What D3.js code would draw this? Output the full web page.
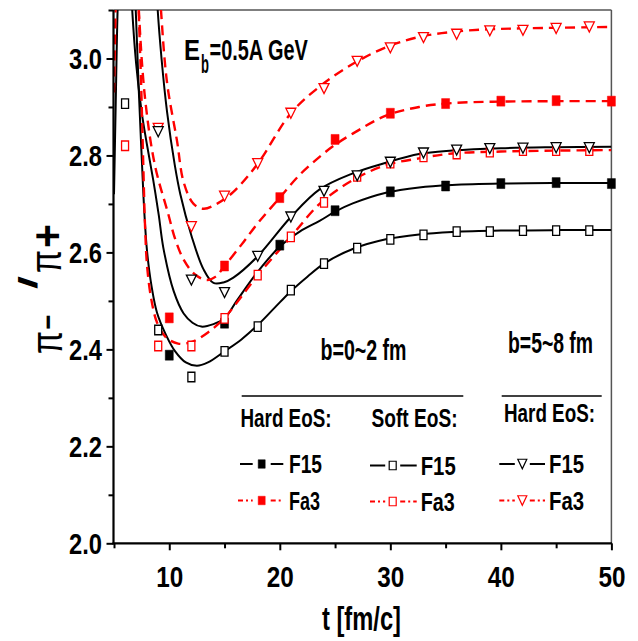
<!DOCTYPE html>
<html><head><meta charset="utf-8">
<script src="https://cdn.jsdelivr.net/npm/d3@7"></script>
<style>body{margin:0;background:#fff}svg{display:block}</style>
</head><body><svg id="c" width="638" height="641"></svg>
<script>
// ---------- data ----------
const yMajorTicks = [2.0, 2.2, 2.4, 2.6, 2.8, 3.0];
const yMinorTicks = [2.1, 2.3, 2.5, 2.7, 2.9, 3.1];
const xMajorTicks = [10, 20, 30, 40, 50];
const xMinorTicks = [5, 15, 25, 35, 45];

// marker times
const tOpen = [6, 9, 12, 15, 18, 21, 24, 27, 30, 33, 36, 39, 42, 45, 48];
const tFilled = [10, 15, 20, 25, 30, 35, 40, 45, 50];
const tTri = [9, 12, 15, 18, 21, 24, 27, 30, 33, 36, 39, 42, 45, 48];

// marker values
const softF15Pts = [2.907, 2.440, 2.343, 2.396, 2.447, 2.522, 2.577, 2.609, 2.627, 2.636, 2.643, 2.643, 2.645, 2.645, 2.645];
const softFa3Pts = [2.820, 2.407, 2.407, 2.464, 2.553, 2.632, 2.703, 2.757, 2.784, 2.797, 2.803, 2.807, 2.810, 2.810, 2.810];
const hardF15Pts = [2.388, 2.454, 2.615, 2.686, 2.725, 2.737, 2.742, 2.744, 2.742];
const hardFa3Pts = [2.465, 2.572, 2.713, 2.833, 2.887, 2.907, 2.912, 2.913, 2.912];
const b58F15Pts = [2.849, 2.543, 2.517, 2.592, 2.673, 2.726, 2.758, 2.786, 2.805, 2.811, 2.814, 2.815, 2.816, 2.816];
const b58Fa3Pts = [2.856, 2.653, 2.716, 2.783, 2.887, 2.938, 2.994, 3.022, 3.043, 3.050, 3.057, 3.058, 3.062, 3.065];

// fitted curves [t, value]
const softF15Curve = [[5.0,2.72],[5.15,2.90],[5.35,3.12],[5.8,3.38],[6.2,3.45],[6.6,3.32],[6.95,3.11],[7.25,2.93],[7.5,2.80],[7.75,2.68],[8.0,2.60],[8.4,2.53],[8.9,2.475],[9.7,2.43],[10.5,2.397],[11.5,2.373],[12.5,2.366],[13.5,2.373],[15,2.396],[16.5,2.42],[18,2.45],[19.5,2.485],[21,2.52],[22.5,2.55],[24,2.577],[26.6,2.607],[29.6,2.627],[32.6,2.637],[35.6,2.642],[40,2.645],[45,2.646],[50,2.646]];
const softFa3Curve = [[5.0,2.93],[5.1,3.05],[5.25,3.2],[5.8,3.5],[6.4,3.5],[6.9,3.3],[7.2,3.12],[7.45,2.95],[7.65,2.78],[7.8,2.66],[8.0,2.57],[8.4,2.50],[8.9,2.455],[9.7,2.425],[10.8,2.412],[12,2.415],[13.5,2.435],[15,2.465],[16.5,2.508],[18,2.553],[21,2.632],[23.6,2.700],[26.6,2.749],[29.6,2.780],[32.6,2.794],[35.6,2.804],[40,2.808],[45,2.810],[50,2.811]];
const hardF15Curve = [[6.3,3.3],[6.6,3.12],[7.0,2.99],[7.5,2.89],[8.0,2.82],[8.55,2.749],[9.05,2.677],[9.46,2.61],[10.4,2.52],[11.3,2.474],[12.1,2.455],[12.9,2.447],[14,2.452],[15,2.464],[16.1,2.50],[18,2.56],[20,2.612],[21.8,2.643],[23.6,2.665],[25,2.684],[26.6,2.701],[29.6,2.723],[32.6,2.734],[35.6,2.739],[40,2.742],[45,2.743],[50,2.743]];
const hardFa3Curve = [[6.9,3.3],[7.2,3.12],[7.8,2.92],[8.7,2.78],[9.9,2.68],[10.5,2.63],[11.3,2.585],[12.3,2.555],[13.4,2.543],[14.2,2.55],[15,2.572],[16.5,2.615],[18,2.66],[20,2.713],[21.8,2.76],[23.6,2.797],[25,2.822],[26.6,2.845],[29.6,2.882],[32.6,2.90],[35.6,2.908],[40,2.911],[45,2.912],[50,2.912]];
const b58F15Curve = [[8.6,3.3],[8.9,3.12],[9.3,3.0],[9.8,2.89],[10.5,2.78],[11.0,2.72],[12.0,2.635],[13.1,2.565],[14,2.537],[14.9,2.538],[15.8,2.548],[18,2.592],[21,2.673],[23.6,2.73],[26.6,2.763],[29.6,2.785],[32.6,2.803],[35.6,2.81],[40,2.815],[45,2.817],[50,2.818]];
const b58Fa3Curve = [[9.0,3.2],[9.25,3.1],[9.8,2.95],[10.7,2.83],[11.3,2.745],[12.2,2.70],[13.1,2.69],[14.3,2.70],[15.8,2.725],[18,2.783],[21,2.887],[23.6,2.942],[26.7,2.99],[29.7,3.024],[32.7,3.045],[35.7,3.055],[38.7,3.06],[41.7,3.062],[50,3.065]];

// ---------- drawing ----------
const FONT = '"Liberation Sans", Arial, sans-serif';
const svg = d3.select('#c');
const L = 113.5, R = 611.4, T = 10, B = 543.3;
const x = d3.scaleLinear().domain([5, 50]).range([114, 611.4]);
const y = d3.scaleLinear().domain([2.0, 3.1]).range([B, T]);
const RED = '#ff0000';

svg.append('defs').append('clipPath').attr('id', 'clip')
  .append('rect').attr('x', L).attr('y', T).attr('width', R - L).attr('height', B - T);

// frame (top / right)
svg.append('line').attr('x1', L).attr('x2', R).attr('y1', T).attr('y2', T).attr('stroke', '#555').attr('stroke-width', 1.5);
svg.append('line').attr('x1', R).attr('x2', R).attr('y1', T).attr('y2', B).attr('stroke', '#555').attr('stroke-width', 1.5);

// curves
const lineGen = d3.line().x(d => x(d[0])).y(d => y(d[1])).curve(d3.curveCatmullRom.alpha(0.5));
const curveSpecs = [
  {d: softF15Curve, c: '#000', dash: null, w: 2},
  {d: hardF15Curve, c: '#000', dash: null, w: 2},
  {d: b58F15Curve, c: '#000', dash: null, w: 2},
  {d: softFa3Curve, c: RED, dash: '10,6', w: 2.4},
  {d: hardFa3Curve, c: RED, dash: '10,6', w: 2.4},
  {d: b58Fa3Curve, c: RED, dash: '10,6', w: 2.4}
];
const gc = svg.append('g').attr('clip-path', 'url(#clip)');
curveSpecs.forEach(s => {
  gc.append('path').attr('d', lineGen(s.d)).attr('fill', 'none')
    .attr('stroke', s.c).attr('stroke-width', s.w)
    .attr('stroke-dasharray', s.dash);
});

// marker helpers
function sqPath(cx, cy, w, h) {
  return `M${cx - w/2},${cy - h/2}h${w}v${h}h${-w}Z`;
}
function triPath(cx, cy, w, h) {
  return `M${cx - w/2},${cy - h/2}L${cx + w/2},${cy - h/2}L${cx},${cy + h/2}Z`;
}
const gm = svg.append('g');
function drawMarkers(ts, vs, kind, color, filled) {
  gm.selectAll(null).data(ts.map((t, i) => [t, vs[i]])).enter().append('path')
    .attr('d', d => kind === 'sq' ? sqPath(x(d[0]), y(d[1]), filled ? 8 : 7, filled ? 10 : 9.5)
                                  : triPath(x(d[0]), y(d[1]), 10, 10))
    .attr('fill', filled ? color : '#fff')
    .attr('stroke', color).attr('stroke-width', filled ? 0.5 : 1.3);
}
drawMarkers(tFilled, hardF15Pts, 'sq', '#000', true);
drawMarkers(tFilled, hardFa3Pts, 'sq', RED, true);
drawMarkers(tOpen, softF15Pts, 'sq', '#000', false);
drawMarkers(tOpen, softFa3Pts, 'sq', RED, false);
drawMarkers(tTri, b58Fa3Pts, 'tri', RED, false);
drawMarkers(tTri, b58F15Pts, 'tri', '#000', false);

// axes
const ya = svg.append('g').attr('transform', `translate(${L},0)`)
  .call(d3.axisLeft(y).tickValues(yMajorTicks).tickSize(7).tickSizeOuter(0).tickFormat(d3.format('.1f')));
ya.attr('font-family', FONT).attr('font-size', 29).attr('font-weight', 'bold');
ya.select('.domain').remove();
ya.selectAll('.tick line').attr('stroke-width', 2);
ya.selectAll('.tick text').attr('x', -11.5).attr('dy', '0.36em').attr('fill', '#000')
  .attr('textLength', 33).attr('lengthAdjust', 'spacingAndGlyphs');
const yam = svg.append('g').attr('transform', `translate(${L},0)`)
  .call(d3.axisLeft(y).tickValues(yMinorTicks).tickSize(5).tickSizeOuter(0).tickFormat(''));
yam.select('.domain').remove();
yam.selectAll('.tick line').attr('stroke-width', 2);

const xa = svg.append('g').attr('transform', `translate(0,${B})`)
  .call(d3.axisBottom(x).tickValues(xMajorTicks).tickSize(7).tickSizeOuter(0).tickFormat(d3.format('d')));
xa.attr('font-family', FONT).attr('font-size', 29).attr('font-weight', 'bold');
xa.select('.domain').remove();
xa.selectAll('.tick line').attr('stroke-width', 2);
xa.selectAll('.tick text').attr('y', 23.4).attr('fill', '#000')
  .attr('textLength', 27).attr('lengthAdjust', 'spacingAndGlyphs');
const xam = svg.append('g').attr('transform', `translate(0,${B})`)
  .call(d3.axisBottom(x).tickValues(xMinorTicks).tickSize(5).tickSizeOuter(0).tickFormat(''));
xam.select('.domain').remove();
xam.selectAll('.tick line').attr('stroke-width', 2);

// axis lines
svg.append('line').attr('x1', L).attr('x2', L).attr('y1', T).attr('y2', B + 1).attr('stroke', '#000').attr('stroke-width', 2.2);
svg.append('line').attr('x1', L - 1).attr('x2', R + 0.5).attr('y1', B).attr('y2', B).attr('stroke', '#000').attr('stroke-width', 2.2);

// text helper
function txt(str, tx, ty, size, len, opts = {}) {
  return svg.append('text').attr('x', tx).attr('y', ty)
    .attr('font-family', FONT).attr('font-size', size)
    .attr('font-weight', opts.weight || 'bold')
    .attr('text-anchor', opts.anchor || 'start')
    .attr('textLength', len).attr('lengthAdjust', 'spacingAndGlyphs')
    .attr('fill', opts.fill || '#000').text(str);
}
// horizontally condensed text via transform
function ctxt(str, tx, ty, size, sx) {
  svg.append('g').attr('transform', `translate(${tx},${ty}) scale(${sx},1)`)
    .append('text').attr('x', 0).attr('y', 0)
    .attr('font-family', FONT).attr('font-size', size).attr('font-weight', 'bold')
    .attr('fill', '#000').text(str);
}

// axis title
txt('t [fm/c]', 361.5, 630, 33, 79, {anchor: 'middle'});

// y title (rotated)
const yt = svg.append('g').attr('transform', 'translate(62,353) rotate(-90)');
function rtxt(str, tx, ty, size, len, weight) {
  yt.append('text').attr('x', tx).attr('y', ty).attr('font-family', FONT)
    .attr('font-size', size).attr('font-weight', weight || 'normal')
    .attr('textLength', len).attr('lengthAdjust', 'spacingAndGlyphs').attr('fill', '#000').text(str);
}
rtxt('\u03c0', -1, 0, 44, 23);
rtxt('\u2212', 23.5, -4.5, 30, 15, 'bold');
rtxt('/', 64, -25, 26, 13, 'bold');
rtxt('\u03c0', 80, -1, 44, 23);
rtxt('+', 105, 1, 44, 24, 'bold');

// annotations: E_b=0.5A GeV
ctxt('E', 184, 60, 30, 0.8);
ctxt('b', 201, 72.5, 26, 0.5);
ctxt('=0.5A GeV', 209.5, 60, 30, 0.664);

txt('b=0~2 fm', 320.5, 360, 29, 86);
txt('b=5~8 fm', 508, 353.3, 29, 85);

// legend
svg.append('line').attr('x1', 241.7).attr('x2', 463.3).attr('y1', 396).attr('y2', 396).attr('stroke', '#000').attr('stroke-width', 1.5);
svg.append('line').attr('x1', 501.7).attr('x2', 601.7).attr('y1', 396).attr('y2', 396).attr('stroke', '#000').attr('stroke-width', 1.5);
txt('Hard EoS:', 240.5, 426.7, 25, 91);
txt('Soft EoS:', 371.5, 426.7, 25, 86);
txt('Hard EoS:', 504, 421.7, 25, 91);

function legendSample(x0, x1, xc, yy, color, dashed, kind, filled, gap) {
  [[x0, xc - gap], [xc + gap, x1]].forEach(seg => {
    svg.append('line').attr('x1', seg[0]).attr('x2', seg[1]).attr('y1', yy).attr('y2', yy)
      .attr('stroke', color).attr('stroke-width', 2).attr('stroke-dasharray', dashed ? '5,3,2,3' : null);
  });
  svg.append('path')
    .attr('d', kind === 'sq' ? sqPath(xc, yy, 7, 8.5) : triPath(xc, yy, 9, 9.5))
    .attr('fill', filled ? color : '#fff').attr('stroke', color).attr('stroke-width', filled ? 0.5 : 1.2);
}
const row1 = 464, row2 = 500.5;
legendSample(240, 283.3, 261.7, row1, '#000', false, 'sq', true, 9);
legendSample(238, 283.3, 261.7, row2, RED, true, 'sq', true, 9);
legendSample(370, 416.7, 392.7, row1 + 1.5, '#000', false, 'sq', false, 7.5);
legendSample(370, 416.7, 392.7, row2 + 1, RED, true, 'sq', false, 7.5);
legendSample(499.3, 545, 522.3, row1, '#000', false, 'tri', false, 7.5);
legendSample(499.3, 545, 522.3, row2, RED, true, 'tri', false, 7.5);

txt('F15', 289, 473, 26, 33);
txt('Fa3', 289, 509.5, 26, 31);
txt('F15', 420.7, 474.5, 26, 35);
txt('Fa3', 420.7, 510.5, 26, 34);
txt('F15', 549, 473, 26, 35);
txt('Fa3', 549, 509.5, 26, 35);
</script>
</body></html>
